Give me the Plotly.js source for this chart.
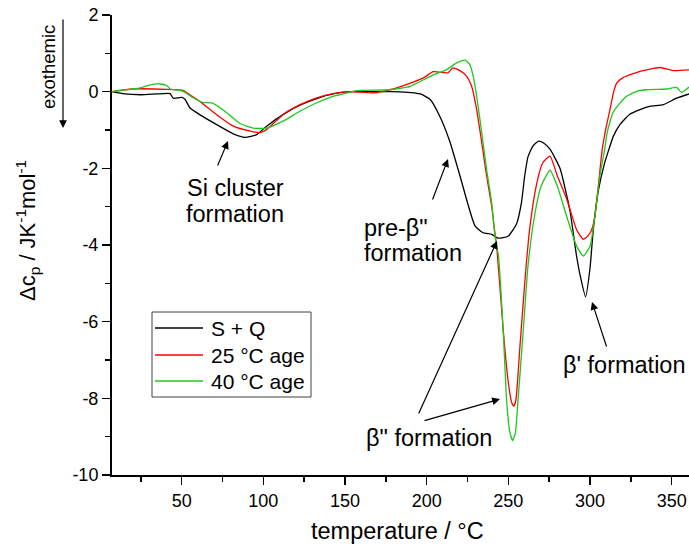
<!DOCTYPE html>
<html>
<head>
<meta charset="utf-8">
<script src="https://cdn.plot.ly/plotly-3.0.1.min.js"></script>
<style>html,body{margin:0;padding:0;background:#fff;}#chart{width:689px;height:550px;}</style>
</head>
<body>
<div id="chart"></div>
<script>
// ---- Data ----
var sqT = [7.3, 15, 25, 35, 42.9, 44.8, 50, 52, 55, 61, 71.4, 81.6, 88.8, 95.9, 102, 112, 122, 132.7, 142.7, 153, 165, 180, 196, 202, 208, 214, 220.4, 225, 229.6, 234.5, 239.8, 243.7, 249.8, 255, 258, 260, 262, 265, 268.5, 272, 275.5, 281.6, 287.7, 291.8, 294, 297.3, 300, 302, 305, 309, 311.6, 314.3, 318.3, 324, 330.6, 337, 344.9, 353, 360.6];
var sqV = [0, -0.06, -0.08, -0.06, -0.05, -0.17, -0.15, -0.2, -0.42, -0.6, -0.86, -1.1, -1.19, -1.12, -0.9, -0.6, -0.36, -0.18, -0.06, 0, 0, 0, -0.06, -0.2, -0.64, -1.28, -2.2, -2.9, -3.5, -3.68, -3.72, -3.82, -3.77, -3.45, -2.9, -2.2, -1.7, -1.42, -1.29, -1.35, -1.5, -2.0, -3.1, -4.3, -4.8, -5.35, -4.6, -3.6, -2.6, -1.85, -1.5, -1.16, -0.86, -0.6, -0.47, -0.38, -0.34, -0.17, -0.06];

var r25T = [7.3, 20, 41, 51, 55, 61, 71.4, 81.6, 92, 98, 102, 112, 122.4, 132.7, 142.7, 153, 167, 177.5, 191.7, 198, 204, 210, 213, 216, 220.4, 224.5, 227.5, 230.6, 233.7, 236.7, 239.8, 241.8, 243, 247, 250, 252, 253.3, 254.6, 257, 260, 263, 267, 271, 275.5, 280, 285.7, 291.8, 295.8, 299, 301, 303, 304.5, 307.5, 310, 312.2, 314.3, 316.3, 320, 330.6, 342.8, 351, 360.6];
var r25V = [0, 0.07, 0.06, 0.03, -0.08, -0.25, -0.6, -0.9, -1.03, -1.07, -0.99, -0.6, -0.34, -0.16, -0.05, 0, -0.03, 0.05, 0.25, 0.36, 0.52, 0.5, 0.49, 0.62, 0.55, 0.4, 0.14, -0.47, -1.33, -2.2, -2.99, -3.7, -4.1, -6.3, -7.6, -8.1, -8.2, -8.05, -6.7, -5.0, -3.6, -2.47, -1.86, -1.68, -2.2, -2.8, -3.6, -3.85, -3.75, -3.6, -3.25, -2.7, -1.5, -0.9, -0.47, -0.03, 0.22, 0.36, 0.53, 0.63, 0.55, 0.57];

var r40T = [7.3, 20, 24.5, 30.6, 36.7, 40.8, 43, 51, 57, 63, 69, 77.6, 85.7, 93.8, 102, 112, 122.4, 132.7, 142.7, 147, 157, 177.5, 190, 198, 204, 212, 218.4, 223.5, 226.5, 228.5, 230.6, 233.7, 236.7, 239.8, 241.8, 244, 247, 249, 251, 252.6, 254.3, 256, 259, 262, 266, 270, 275.5, 280, 285.7, 291.8, 295.9, 300, 303, 306, 309, 310.5, 314, 318.3, 322.4, 328.6, 334.7, 347, 353, 356, 360.6];
var r40V = [0, 0.07, 0.1, 0.18, 0.2, 0.16, 0.07, 0.01, -0.16, -0.28, -0.3, -0.55, -0.83, -0.95, -0.95, -0.77, -0.51, -0.29, -0.12, -0.08, 0.03, 0.05, 0.14, 0.31, 0.44, 0.57, 0.75, 0.82, 0.7, 0.4, -0.12, -1.07, -2.03, -2.9, -3.77, -4.3, -6.37, -8.1, -8.9, -9.1, -8.9, -8.0, -6.3, -4.55, -3.25, -2.47, -2.05, -2.47, -3.25, -4.03, -4.29, -4.03, -3.25, -2.2, -1.5, -1.07, -0.55, -0.3, -0.12, 0.01, 0.05, 0.07, 0.11, -0.02, 0.12];

var seriesNames = ["S + Q", "25 °C age", "40 °C age"];
var seriesColors = ["#000000", "#ff0000", "#1ec81e"];
var xTickVals = [50, 100, 150, 200, 250, 300, 350];
var xTickText = ["50", "100", "150", "200", "250", "300", "350"];
var yTickVals = [2, 0, -2, -4, -6, -8, -10];
var yTickText = ["2", "0", "-2", "-4", "-6", "-8", "-10"];

// ---- Layout helpers (pixel -> paper) ----
var W = 689, H = 550, L = 112, R = 0, T = 15, B = 75;
var PW = W - L - R, PH = H - T - B;
function px(x) { return (x - L) / PW; }
function py(y) { return (H - B - y) / PH; }

var FONT = "Liberation Sans, Arial, Helvetica, sans-serif";
var seriesX = [sqT, r25T, r40T];
var seriesY = [sqV, r25V, r40V];

var traces = seriesNames.map(function (n, i) {
  return {x: seriesX[i], y: seriesY[i], name: n, mode: "lines", showlegend: false,
    line: {color: seriesColors[i], width: 1.3, shape: "spline", smoothing: 0.5}};
});

function txt(text, x, y, xanchor, size, angle) {
  return {text: text, xref: "paper", yref: "paper", x: px(x), y: py(y), xanchor: xanchor || "center", yanchor: "middle",
    showarrow: false, font: {family: FONT, size: size || 23.5, color: "#000"}, textangle: angle || 0};
}
function arrow(hx, hy, tx, ty) {
  return {text: "", xref: "paper", yref: "paper", x: px(hx), y: py(hy), ax: tx - hx, ay: ty - hy,
    showarrow: true, arrowhead: 2, arrowsize: 1.3, arrowwidth: 1.2, arrowcolor: "#000", standoff: 0};
}

var annotations = [
  txt("Si cluster", 235, 188),
  txt("formation", 235, 214),
  txt("pre-β\"", 362, 228, "left"),
  txt("formation", 362, 253, "left"),
  txt("β\" formation", 364, 438, "left"),
  txt("β' formation", 561, 365, "left"),
  txt("temperature / °C", 397, 531, "center", 23.5),
  txt("Δc<sub>p</sub> / JK<sup>-1</sup>mol<sup>-1</sup>", 28, 231, "center", 22, -90),
  txt("exothemic", 48, 67, "center", 18.5, -90),
  arrow(228, 141, 217, 167),
  arrow(448, 159, 432, 201),
  arrow(497, 241, 418, 415),
  arrow(500, 399, 423, 421),
  arrow(592, 302, 607, 348),
  arrow(63, 128, 63, 18)
];

// ---- Legend (box, line samples, labels) ----
var legRows = [328, 355, 381];
var shapes = [{type: "rect", xref: "paper", yref: "paper", x0: px(152), x1: px(311), y0: py(312), y1: py(397),
  line: {color: "#404040", width: 1}, fillcolor: "#fff", layer: "above"}];
seriesNames.forEach(function (n, i) {
  shapes.push({type: "line", xref: "paper", yref: "paper", x0: px(155), x1: px(203), y0: py(legRows[i]), y1: py(legRows[i]),
    line: {color: seriesColors[i], width: 1.5}, layer: "above"});
  annotations.push(txt(n, 209, legRows[i], "left", 21));
});

var axisCommon = {
  showgrid: false, zeroline: false, showline: true, linecolor: "#000", linewidth: 2,
  ticks: "outside", ticklen: 8, tickwidth: 1.5, tickcolor: "#000",
  tickfont: {family: FONT, size: 18, color: "#000"}, mirror: false, fixedrange: true
};

var layout = {
  width: W, height: H,
  margin: {l: L, r: R, t: T, b: B, pad: 0},
  paper_bgcolor: "#fff", plot_bgcolor: "#fff",
  font: {family: FONT, color: "#000"},
  showlegend: false,
  xaxis: Object.assign({}, axisCommon, {range: [7.33, 360.6], tickmode: "array", tickvals: xTickVals, ticktext: xTickText,
    minor: {dtick: 25, tick0: 0, ticks: "outside", ticklen: 5, tickwidth: 1.5, tickcolor: "#000", showgrid: false}}),
  yaxis: Object.assign({}, axisCommon, {range: [-10, 2], tickmode: "array", tickvals: yTickVals, ticktext: yTickText,
    minor: {dtick: 1, tick0: 0, ticks: "outside", ticklen: 5, tickwidth: 1.5, tickcolor: "#000", showgrid: false}}),
  shapes: shapes,
  annotations: annotations
};

Plotly.newPlot("chart", traces, layout, {displayModeBar: false, staticPlot: true});
</script>
</body>
</html>
